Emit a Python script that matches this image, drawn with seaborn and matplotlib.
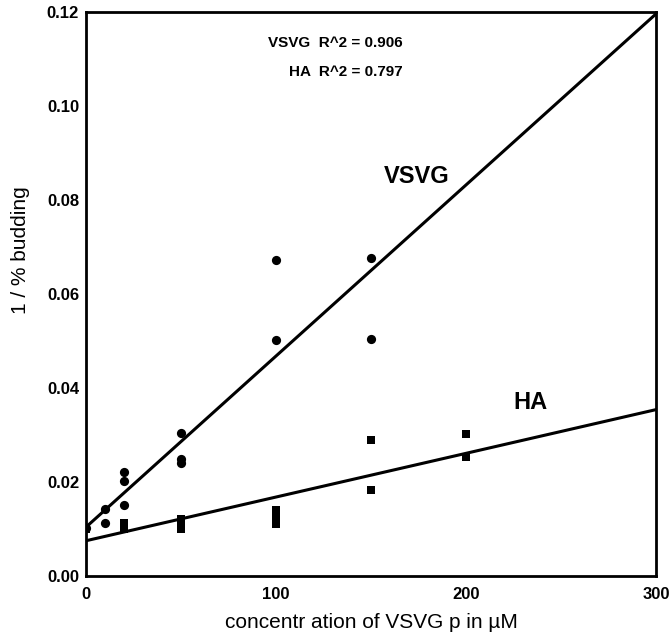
import matplotlib
matplotlib.use("Agg")
import matplotlib.pyplot as plt
import seaborn as sns
import numpy as np
import pandas as pd

# ---- data ----
vsvg_x = [0, 10, 10, 20, 20, 20, 50, 50, 50, 100, 100, 150, 150]
vsvg_y = [0.0102, 0.0143, 0.0113, 0.0222, 0.0202, 0.0151, 0.0305, 0.0249,
          0.0241, 0.0673, 0.0503, 0.0676, 0.0505]

ha_x = [0, 20, 20, 50, 50, 50, 100, 100, 100, 100, 150, 150, 200, 200]
ha_y = [0.0100, 0.0113, 0.0100, 0.0122, 0.0111, 0.0100, 0.0141, 0.0131,
        0.0121, 0.0111, 0.0290, 0.0183, 0.0303, 0.0254]

# fitted regression lines shown in the figure (intercept, slope)
vsvg_fit = (0.0104, 0.000364)
ha_fit = (0.0075, 0.000093)

r2_labels = ["VSVG  R^2 = 0.906", "HA  R^2 = 0.797"]
x_ticks = [0, 50, 100, 150, 200, 250, 300]
x_ticklabels = ["0", "", "100", "", "200", "", "300"]
y_ticks = [0.00, 0.02, 0.04, 0.06, 0.08, 0.10, 0.12]

sns.set_theme(style="white", rc={"text.color": "black",
                                 "axes.labelcolor": "black",
                                 "xtick.color": "black",
                                 "ytick.color": "black"})
plt.rcParams["font.family"] = ["Liberation Sans", "DejaVu Sans"]

fig = plt.figure(figsize=(6.70, 6.40), dpi=100)
ax = fig.add_axes([86 / 670, 1 - 576 / 640, (656 - 86) / 670, (576 - 12) / 640])

df_v = pd.DataFrame({"x": vsvg_x, "y": vsvg_y})
df_h = pd.DataFrame({"x": ha_x, "y": ha_y})

sns.scatterplot(data=df_v, x="x", y="y", marker="o", s=44, color="black",
                edgecolor="black", linewidth=0, ax=ax, zorder=3)
sns.scatterplot(data=df_h, x="x", y="y", marker="s", s=38, color="black",
                edgecolor="black", linewidth=0, ax=ax, zorder=3)

xl = np.array([0, 300])
line_df = pd.DataFrame({
    "x": np.concatenate([xl, xl]),
    "y": np.concatenate([vsvg_fit[0] + vsvg_fit[1] * xl, ha_fit[0] + ha_fit[1] * xl]),
    "s": ["VSVG", "VSVG", "HA", "HA"],
})
sns.lineplot(data=line_df, x="x", y="y", units="s", estimator=None,
             color="black", linewidth=2.2, ax=ax, legend=False)

ax.set_xlim(0, 300)
ax.set_ylim(0, 0.12)
ax.set_xticks(x_ticks)
ax.set_xticklabels(x_ticklabels)
ax.set_yticks(y_ticks)
ax.set_yticklabels([f"{t:.2f}" for t in y_ticks])
ax.tick_params(direction="in", length=5, width=1.5, pad=5, labelsize=12,
               colors="black")
ax.tick_params(axis="x", pad=8)
for lab in ax.get_xticklabels() + ax.get_yticklabels():
    lab.set_fontweight("bold")
for sp in ax.spines.values():
    sp.set_color("black")
    sp.set_linewidth(2.0)
    sp.set_visible(True)

ax.set_xlabel("concentr ation of VSVG p in \u00b5M", fontsize=15, labelpad=8,
              color="black")
ax.set_ylabel("1 / % budding", fontsize=15, labelpad=10, color="black")
ax.yaxis.set_label_coords(-0.098, 0.578)

ax.text(0.555, 0.945, r2_labels[0], transform=ax.transAxes, ha="right",
        va="center", fontsize=11, fontweight="bold", color="black")
ax.text(0.555, 0.894, r2_labels[1], transform=ax.transAxes, ha="right",
        va="center", fontsize=11, fontweight="bold", color="black")

ax.text(157, 0.085, "VSVG", fontsize=17, fontweight="bold", va="center",
        ha="left", color="black")
ax.text(225, 0.0369, "HA", fontsize=17, fontweight="bold", va="center",
        ha="left", color="black")

fig.savefig("out.png", dpi=100)
